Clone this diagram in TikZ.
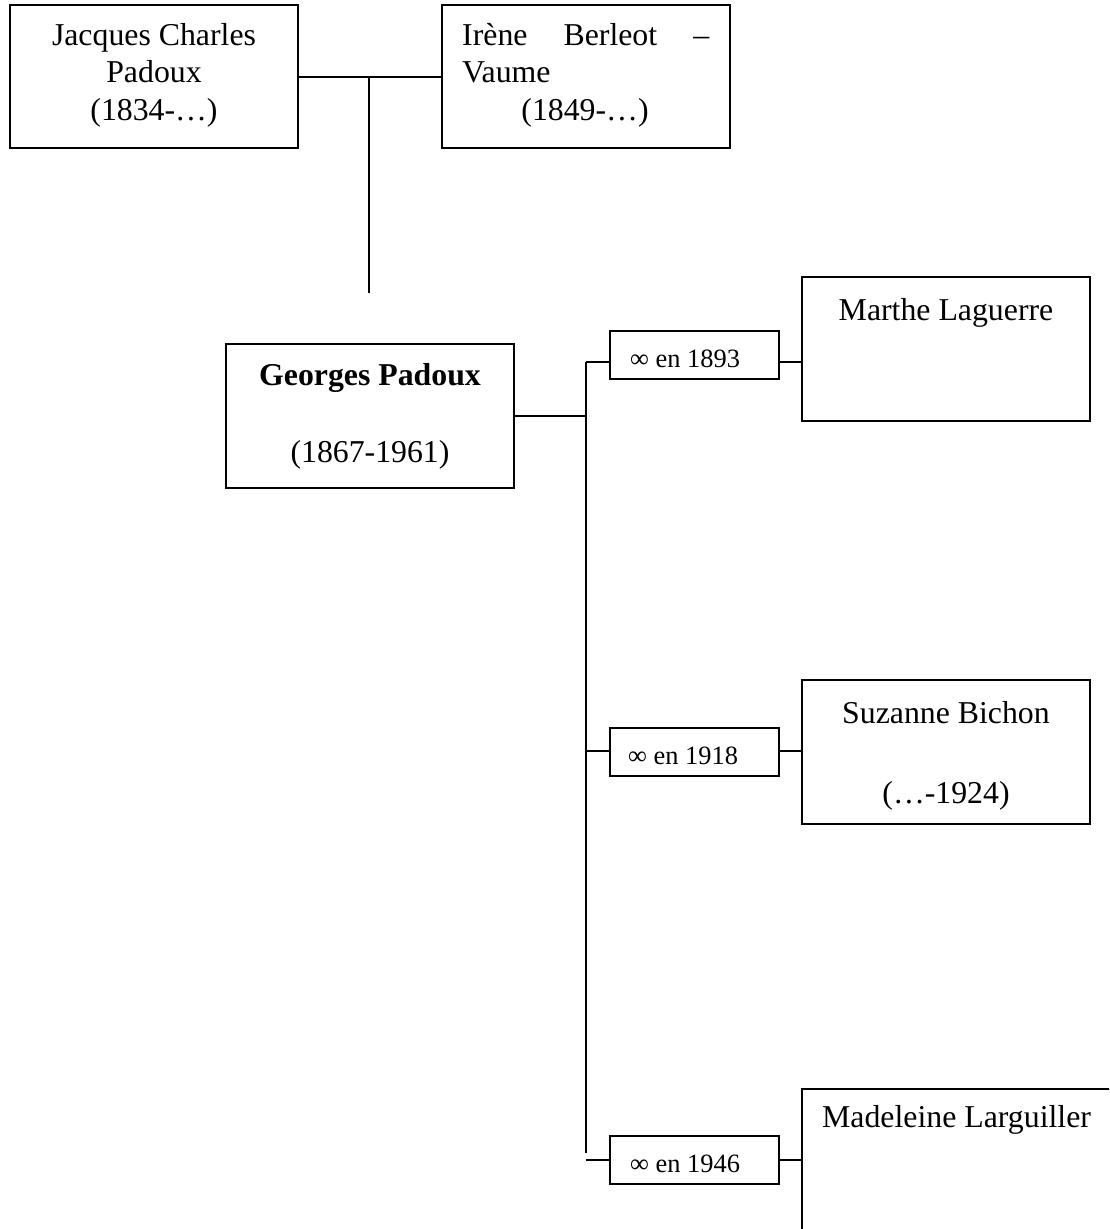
\documentclass[tikz,border=0pt]{standalone}
\usepackage{fontspec}
\setmainfont{Liberation Serif}
\usetikzlibrary{calc}
\tikzset{
  box/.style={draw, line width=2pt, inner sep=0pt, outer sep=0pt, anchor=north west, fill=none},
  big/.style={inner sep=0pt, font=\fontsize{31.8}{37}\selectfont},
  small/.style={inner sep=0pt, font=\fontsize{26.4}{31}\selectfont},
  link/.style={line width=2pt}
}
\begin{document}
\begin{tikzpicture}[x=1pt,y=-1pt]
\useasboundingbox (0,0) rectangle (1109,1229);
\clip (0,0) rectangle (1109,1229);
\fill[white] (0,0) rectangle (1109,1229);

% boxes
\node[box, minimum width=288pt, minimum height=143pt] (jacques) at (10,5) {};
\node[box, minimum width=288pt, minimum height=143pt] (irene) at (442,5) {};
\node[box, minimum width=288pt, minimum height=144pt] (georges) at (226,344) {};
\node[box, minimum width=169pt, minimum height=48pt] (m1) at (610,331) {};
\node[box, minimum width=288pt, minimum height=144pt] (marthe) at (802,277) {};
\node[box, minimum width=169pt, minimum height=48pt] (m2) at (610,728) {};
\node[box, minimum width=288pt, minimum height=144pt] (suzanne) at (802,680) {};
\node[box, minimum width=169pt, minimum height=48pt] (m3) at (610,1136) {};
\node[box, minimum width=420pt, minimum height=240pt] (madeleine) at (802,1089) {};

% texts
\node[big, anchor=base] (jt1) at (154,45) {Jacques Charles};
\node[big, anchor=base] (jt2) at (154,82) {Padoux};
\node[big, anchor=base] (jt3) at (154,120) {(1834-…)};
\node[big, anchor=base west] (it1) at (462,45) {\makebox[247pt][s]{Irène\hfill Berleot\hfill –}};
\node[big, anchor=base west] (it2) at (462,82) {Vaume};
\node[big, anchor=base] (it3) at (585,120) {(1849-…)};
\node[big, anchor=base, font=\fontsize{31.8}{37}\selectfont\bfseries] (gt1) at (370,385) {Georges Padoux};
\node[big, anchor=base] (gt2) at (370,462) {(1867-1961)};
\node[small, anchor=base west] (m1t) at (630,367) {∞ en 1893};
\node[big, anchor=base] (mt1) at (946,320) {Marthe Laguerre};
\node[small, anchor=base west] (m2t) at (628,764) {∞ en 1918};
\node[big, anchor=base] (st1) at (946,723) {Suzanne Bichon};
\node[big, anchor=base] (st2) at (946,803) {(…-1924)};
\node[small, anchor=base west] (m3t) at (630,1172) {∞ en 1946};
\node[big, anchor=base west] (lt1) at (822,1127) {Madeleine Larguiller};

% connectors
\draw[link] (jacques.east) -- (irene.west);
\coordinate (pm) at (369,76.5);
\coordinate (pd) at (369,293);
\draw[link] (pm) -- (pd);
\coordinate (gm) at (586,416);
\draw[link] (georges.east |- gm) -- (gm);
\coordinate (t1) at (586,362);
\coordinate (t2) at (586,751);
\coordinate (t3) at (586,1160);
\coordinate (tend) at (586,1153);
\draw[link] (t1) -- (tend);
\draw[link] (t1) -- (m1.west |- t1);
\draw[link] (m1.east |- t1) -- (marthe.west |- t1);
\draw[link] (t2) -- (m2.west |- t2);
\draw[link] (m2.east |- t2) -- (suzanne.west |- t2);
\draw[link] (t3) -- (m3.west |- t3);
\draw[link] (m3.east |- t3) -- (madeleine.west |- t3);
\end{tikzpicture}
\end{document}
